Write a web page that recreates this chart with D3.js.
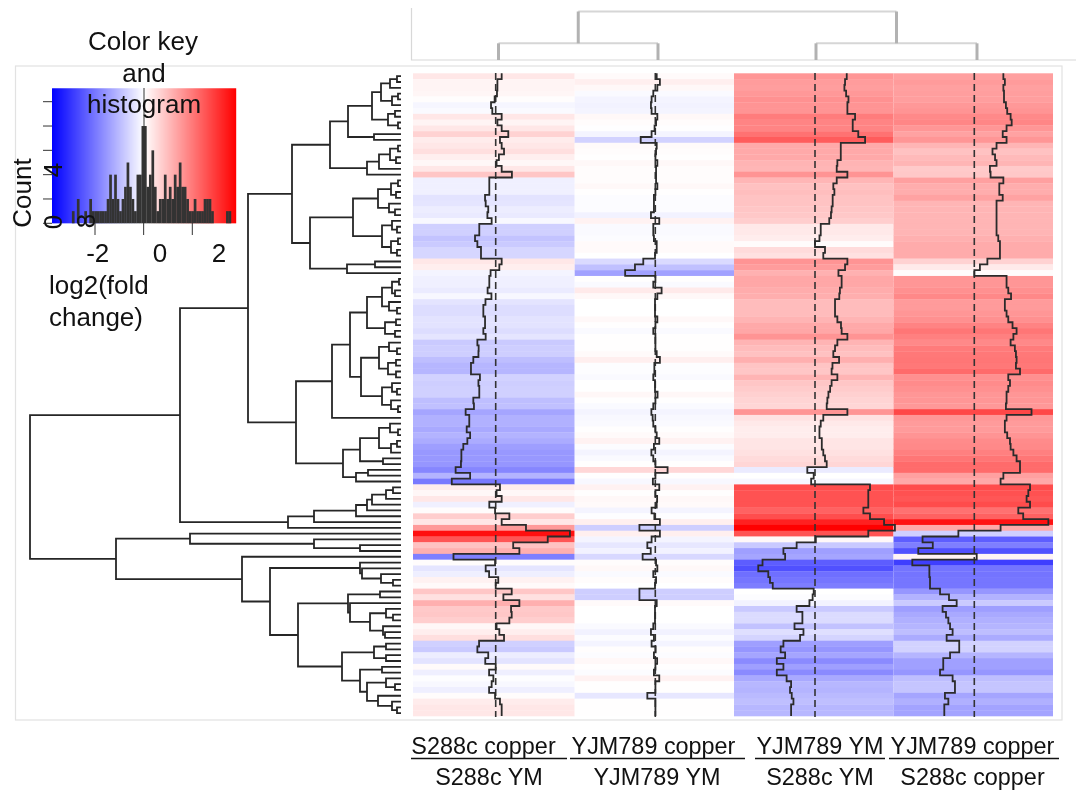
<!DOCTYPE html>
<html><head><meta charset="utf-8">
<script src="https://cdn.jsdelivr.net/npm/d3@7"></script>
<style>html,body{margin:0;padding:0;background:#fff;overflow:hidden}svg{display:block;filter:blur(0.5px)}text{font-family:"Liberation Sans",Arial,sans-serif;fill:#111}</style>
</head><body><div id="chart"></div>
<script>
const topLabels = ["S288c copper","YJM789 copper","YJM789 YM","YJM789 copper"];
const bottomLabels = ["S288c YM","YJM789 YM","S288c YM","S288c copper"];
const col1 = [.36,.16,.16,.14,.03,-.14,-.08,.36,.16,.36,.67,.28,.36,.47,.23,.12,.36,.84,-.22,-.22,-.22,-.42,-.39,-.27,-.31,-.11,-.69,-.69,-.89,-.78,-.61,-.61,.36,.25,-.16,-.22,
 -.22,-.3,-.12,-.4,-.5,-.5,-.42,-.42,-.5,-.39,-.78,-.72,-.73,-.97,-1.08,-1.08,-.66,-.73,-.69,-.69,-.97,-.94,-1.33,-1.16,-1.16,-1.28,-1.12,-1.25,-1.44,-1.53,-1.53,-1.55,-1.8,-1.12,-1.98,.28,.12,.36,
 -.22,.05,.72,.36,1.5,3.56,2.52,.9,1.19,-1.9,.05,-.39,-.23,.2,.08,.83,.44,1.19,.8,.83,.72,.12,.25,.47,-.7,-.78,-.27,-.41,.08,-.23,-.03,-.11,-.23,.05,.28,.36,.36];
const col2 = [.08,.23,.11,-.08,-.16,-.19,-.16,.11,.05,-.02,-.16,-.67,.08,.05,.02,.11,.05,.05,.05,.11,.02,-.05,-.05,-.05,-.19,.2,-.08,-.08,-.05,.08,.08,0,-.55,-.94,-1.4,.02,
 -.08,.31,.11,0,0,0,.11,.02,-.08,.02,.02,.02,.08,.23,-.03,-.03,-.08,0,0,.12,.02,-.08,-.17,-.11,-.08,.02,.08,.2,-.05,-.17,-.08,.02,.59,.02,-.1,.2,.02,.1,
 .08,-.16,-.03,.23,-.73,.23,-.16,-.36,-.2,-.58,.05,.11,-.08,.05,0,-.73,-.73,.08,0,0,0,-.08,-.19,-.05,-.16,.03,-.05,.1,.02,-.05,.2,.02,.02,-.36,.02,.02,.02];
const col3 = [1.55,1.47,1.44,1.52,1.63,1.58,1.58,1.94,1.83,1.83,2.09,2.41,1.27,1.27,1.27,1.11,1.08,1.58,1.08,.92,.97,.89,.89,.84,.81,.73,.33,.33,.27,.06,.53,.45,1.58,1.47,1.16,1.31,
 1.31,1.23,1.2,1,1,1,1.11,1.28,1.31,1.58,1.11,1,.92,1.19,.88,.84,1.11,.84,.77,.69,.64,.61,1.58,.45,.33,.27,.27,.38,.38,.45,.53,.61,-.3,0,-.12,2.64,2.56,2.56,
 2.56,2.33,2.64,3.3,3.81,2.56,.1,-.8,-1.42,-1.34,-2.4,-2.6,-2.13,-2.05,-1.92,0,-.05,-.2,-.8,-.53,-.53,-.9,-.48,-.64,-1.42,-1.55,-1.34,-1.73,-1.42,-1.73,-1.27,-1.06,-1.11,-1.03,-.95,-1.06,-1.06];
const col4 = [1.41,1.48,1.41,1.44,1.44,1.53,1.59,1.75,1.8,1.56,1.38,1.56,1.09,.9,1.02,1.09,.78,.81,1.41,1.22,1.22,1.38,1.09,1.09,1.09,1.09,1.09,1.09,1.17,1.25,1.25,1.25,.66,.31,.05,1.56,
 1.56,1.64,1.77,1.48,1.48,1.56,1.64,1.84,2.03,1.88,1.75,1.95,2,2.03,2,2.19,1.64,1.72,1.64,1.56,1.56,1.53,2.73,1.56,1.48,1.48,1.59,1.72,1.75,1.88,2.03,2.19,2.19,1.41,1.28,2.66,2.58,2.5,
 2.66,2.11,2.34,3.52,1.28,-.7,-2.38,-1.9,-2.58,.16,-2.86,-2.06,-2.06,-2.03,-2.03,-1.56,-1.14,-.78,-1.44,-1.28,-1.17,-1.09,-.97,-1.25,-.66,-.66,-1.09,-1.41,-1.41,-1.56,-.97,-.86,-.86,-1.33,-1.17,-1.36,-1.36];
const columns = [col1,col2,col3,col4];
const histCounts = [0,0,0,0,0,0,0,0,1,0,2,0,0,1,0,2,1,1,1,1,1,1,2,4,2,4,2,1,2,3,5,3,2,1,4,4,8,8,3,4,6,3,1,2,2,4,2,3,2,4,3,5,3,3,2,1,1,2,1,1,1,2,2,2,1,0,0,0,0,0,1,1,0,0];
const countTicks = [0,2,4,6,8,10];
const keyTicks = [-2,0,2];
const keyTickText = ["-2","0","2"];
const valueMax = 3.78;
// row tree: [merge height, left, right]; 0 is a leaf
const rowTree = [371,
 [221,
  [153,
   [109,
    [71,
     [53,[29,[20,[11,[4,0,0],0],[9,[3,0,0],0]],[13,[6,0,0],[3,0,0]]],[27,0,0]],
     [34,[22,[11,[3,0,0],[5,0,0]],0],0]],
    [91,
     [48,[23,[10,[3,0,0],[5,0,0]],[12,0,[6,0,0]]],[19,[9,0,[4,0,0]],[10,[3,0,0],[4,0,0]]]],
     [54,[26,0,0],0]]],
   [105,
    [69,
     [51,
      [34,[19,[9,[2,0,0],[6,0,0]],[12,0,[4,0,0]]],[16,[5,0,0],[6,0,0]]],
      [40,[22,[12,0,[4,0,0]],[13,[5,0,0],[5,0,0]]],[19,[9,0,[4,0,0]],[10,0,[3,0,0]]]]],
     0],
    [58,
     [41,[22,[11,0,[3,0,0]],[10,[4,0,0],0]],[18,0,0]],
     [45,[33,0,0],0]]]],
  [113,[87,[45,[34,[29,[15,[8,0,0],0],0],0],0],0],0]],
 [285,
  [211,0,[87,0,[41,0,0]]],
  [159,0,
   [131,
    [41,0,[39,0,[20,0,[8,0,0]]]],
    [103,
     [53,[21,0,0],[51,0,[31,[15,0,[8,0,0]],[18,0,[16,0,0]]]]],
     [59,[27,[15,0,0],[15,0,0]],[41,[19,0,0],[34,[15,0,[6,0,0]],[23,0,[9,0,[4,0,0]]]]]]]]]]];
const colMergeHeights = [32,11,11];

const W=1078,H=792;
const svg=d3.select("#chart").append("svg").attr("width",W).attr("height",H).style("background","#fff");
const rowsN=col1.length;
const rowIdx=d3.range(rowsN);
const y=d3.scaleBand().domain(rowIdx).range([73.3,716]).paddingInner(0).paddingOuter(0);
const colEdges=[413,574.7,734,893.5,1053];
const color=d3.scaleLinear().domain([-valueMax,0,valueMax]).range(["#0000ff","#ffffff","#ff0000"]).clamp(true);
const traceZero=[494,655,813.7,973.3], dashedAt=[495.7,655.3,815,974.3];
const traceOff=d3.scaleLinear().domain([-valueMax,valueMax]).range([-80.6,80.6]);

svg.append("rect").attr("x",15.5).attr("y",66).attr("width",1046.5).attr("height",654).attr("fill","#fff").attr("stroke","#e2e2e2").attr("stroke-width",1.2);
columns.forEach((vals,c)=>{
 svg.append("g").selectAll("rect").data(vals).join("rect")
  .attr("x",colEdges[c]).attr("width",colEdges[c+1]-colEdges[c])
  .attr("y",(d,i)=>y(i)).attr("height",y.bandwidth()+.3).attr("fill",d=>color(d));
});
columns.forEach((vals,c)=>{
 svg.append("line").attr("x1",dashedAt[c]).attr("x2",dashedAt[c]).attr("y1",73).attr("y2",717)
  .attr("stroke","#333").attr("stroke-width",1.6).attr("stroke-dasharray","7 4");
 const pts=vals.flatMap((v,i)=>[[traceZero[c]+traceOff(v),y(i)],[traceZero[c]+traceOff(v),y(i)+y.bandwidth()]]);
 svg.append("path").attr("d",d3.line()(pts)).attr("fill","none").attr("stroke","#2b2b2b").attr("stroke-width",1.8);
});
const dx=d3.scaleLinear().domain([0,371]).range([401,30]);
let leaf=0;
const rowLines=[];
function walk(n){
 if(n===0){const yy=y(leaf)+y.bandwidth()/2;leaf++;return {x:dx(0),y:yy};}
 const a=walk(n[1]),b=walk(n[2]);const xx=dx(n[0]);
 rowLines.push([[a.x,a.y],[xx,a.y],[xx,b.y],[b.x,b.y]]);
 return {x:xx,y:(a.y+b.y)/2};
}
walk(rowTree);
svg.append("g").selectAll("path").data(rowLines).join("path").attr("d",d=>d3.line()(d)).attr("fill","none").attr("stroke","#262626").attr("stroke-width",1.8);
const colDend=d3.scaleLinear().domain([0,32]).range([60,11.5]);
const colCenters=[498.5,658,816,977];
svg.append("path").attr("d","M411.5,8V60H1076").attr("fill","none").attr("stroke","#d8d8d8").attr("stroke-width",1.2);
const cLow=[[colCenters[0],colCenters[1]],[colCenters[2],colCenters[3]]];
const mid=cLow.map(d=>(d[0]+d[1])/2);
const hz=[[cLow[0][0],cLow[0][1],colMergeHeights[1]],[cLow[1][0],cLow[1][1],colMergeHeights[2]],[mid[0],mid[1],colMergeHeights[0]]];
const vt=[[cLow[0][0],0,colMergeHeights[1]],[cLow[0][1],0,colMergeHeights[1]],[cLow[1][0],0,colMergeHeights[2]],[cLow[1][1],0,colMergeHeights[2]],[mid[0],colMergeHeights[1],colMergeHeights[0]],[mid[1],colMergeHeights[2],colMergeHeights[0]]];
svg.append("g").selectAll("line").data(hz).join("line").attr("x1",d=>d[0]).attr("x2",d=>d[1]).attr("y1",d=>colDend(d[2])).attr("y2",d=>colDend(d[2])).attr("stroke","#d6d6d6").attr("stroke-width",2);
svg.append("g").selectAll("line").data(vt).join("line").attr("x1",d=>d[0]).attr("x2",d=>d[0]).attr("y1",d=>colDend(d[1])).attr("y2",d=>colDend(d[2])).attr("stroke","#b2b2b2").attr("stroke-width",3);
const topCx=[483.5,653.5,820,972.5], botCx=[489,657,820,972.5], ul=[[411,567],[570,745],[755,885],[889,1059]];
const fs=23.4;
svg.append("g").selectAll("text").data(topLabels).join("text").attr("x",(d,i)=>topCx[i]).attr("y",754).attr("text-anchor","middle").attr("font-size",fs).text(d=>d);
svg.append("g").selectAll("text").data(bottomLabels).join("text").attr("x",(d,i)=>botCx[i]).attr("y",785).attr("text-anchor","middle").attr("font-size",fs).text(d=>d);
svg.append("g").selectAll("line").data(ul).join("line").attr("x1",d=>d[0]).attr("x2",d=>d[1]).attr("y1",758.5).attr("y2",758.5).attr("stroke","#111").attr("stroke-width",1.6);
const kx=d3.scaleLinear().domain([-valueMax,valueMax]).range([52,236]);
const key=svg.append("g");
key.selectAll("rect").data(d3.range(184)).join("rect").attr("x",d=>52+d).attr("y",88.3).attr("width",1.2).attr("height",135)
 .attr("fill",d=>color(kx.invert(52+d+.5)));
const hx=d3.scaleBand().domain(d3.range(histCounts.length)).range([52,236]);
const hy=d3.scaleLinear().domain([0,10]).range([223.3,101.7]);
key.append("g").selectAll("rect").data(histCounts).join("rect").attr("x",(d,i)=>hx(i)).attr("width",hx.bandwidth()+.2)
 .attr("y",d=>hy(d)).attr("height",d=>hy(0)-hy(d)).attr("fill","#333");
key.append("line").attr("x1",144).attr("x2",144).attr("y1",88).attr("y2",223).attr("stroke","#333").attr("stroke-width",1);
key.append("g").selectAll("line").data(countTicks).join("line").attr("x1",43).attr("x2",52).attr("y1",d=>hy(d)).attr("y2",d=>hy(d)).attr("stroke","#333").attr("stroke-width",1);
const tickScale=d3.scaleLinear().domain([-2,2]).range([95,192.3]);
key.append("g").selectAll("line").data(keyTicks).join("line").attr("x1",d=>tickScale(d)).attr("x2",d=>tickScale(d)).attr("y1",223).attr("y2",235).attr("stroke","#333").attr("stroke-width",1);
const fk=26;
[["Color key",143,50],["and",144,82],["histogram",144,113]].forEach(t=>svg.append("text").attr("x",t[1]).attr("y",t[2]).attr("text-anchor","middle").attr("font-size",fk).text(t[0]));
keyTickText.forEach((t,i)=>svg.append("text").attr("x",[97.7,160,219][i]).attr("y",261.5).attr("text-anchor","middle").attr("font-size",fk).text(t));
[["log2(fold",49,294],["change)",49,326]].forEach(t=>svg.append("text").attr("x",t[1]).attr("y",t[2]).attr("font-size",fk).text(t[0]));
[["Count",31,193],["0",62,222],["4",62,170],["8",95,221]].forEach(t=>svg.append("text").attr("transform",`translate(${t[1]},${t[2]}) rotate(-90)`).attr("text-anchor","middle").attr("font-size",fk).text(t[0]));
</script></body></html>
